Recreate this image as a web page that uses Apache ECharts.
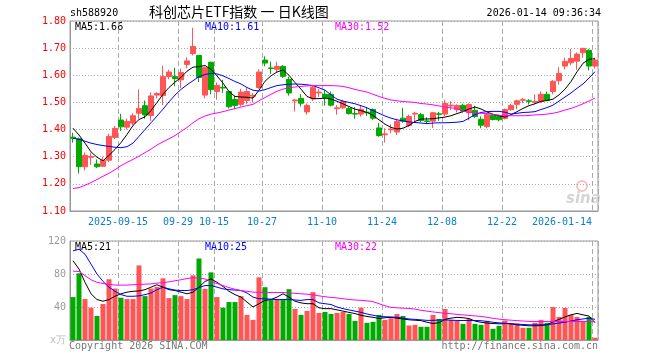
<!DOCTYPE html>
<html>
<head>
<meta charset="utf-8">
<script src="https://cdn.jsdelivr.net/npm/echarts@6/dist/echarts.min.js"></script>
<style>
html,body{margin:0;padding:0;background:#fff;}
#c{width:660px;height:360px;}
</style>
</head>
<body>
<div id="c"></div>
<script>
// ---- data ----
var dates = ['2025-09-03','2025-09-04','2025-09-05','2025-09-08','2025-09-09','2025-09-10','2025-09-11','2025-09-12',
'2025-09-15','2025-09-16','2025-09-17','2025-09-18','2025-09-19','2025-09-22','2025-09-23','2025-09-24','2025-09-25','2025-09-26','2025-09-29','2025-09-30',
'2025-10-09','2025-10-10','2025-10-13','2025-10-14','2025-10-15','2025-10-16','2025-10-17','2025-10-20','2025-10-21','2025-10-22','2025-10-23','2025-10-24','2025-10-27','2025-10-28','2025-10-29','2025-10-30','2025-10-31',
'2025-11-03','2025-11-04','2025-11-05','2025-11-06','2025-11-07','2025-11-10','2025-11-11','2025-11-12','2025-11-13','2025-11-14','2025-11-17','2025-11-18','2025-11-19','2025-11-20','2025-11-21','2025-11-24','2025-11-25','2025-11-26','2025-11-27','2025-11-28',
'2025-12-01','2025-12-02','2025-12-03','2025-12-04','2025-12-05','2025-12-08','2025-12-09','2025-12-10','2025-12-11','2025-12-12','2025-12-15','2025-12-16','2025-12-17','2025-12-18','2025-12-19','2025-12-22','2025-12-23','2025-12-24','2025-12-25','2025-12-26','2025-12-29','2025-12-30','2025-12-31',
'2026-01-05','2026-01-06','2026-01-07','2026-01-08','2026-01-09','2026-01-12','2026-01-13','2026-01-14'];

var opens = [1.372,1.366,1.263,1.298,1.273,1.265,1.287,1.371,1.435,1.409,
1.424,1.460,1.488,1.452,1.527,1.525,1.595,1.595,1.583,1.640,
1.680,1.673,1.527,1.648,1.540,1.556,1.540,1.511,1.493,1.507,
1.523,1.555,1.656,1.627,1.622,1.633,1.585,1.506,1.515,1.465,
1.513,1.535,1.530,1.530,1.477,1.480,1.478,1.459,1.457,1.464,
1.474,1.406,1.381,1.399,1.391,1.442,1.415,1.457,1.455,1.432,
1.431,1.458,1.457,1.487,1.473,1.489,1.462,1.471,1.438,1.411,
1.453,1.448,1.441,1.473,1.493,1.508,1.506,1.501,1.503,1.530,
1.540,1.580,1.634,1.646,1.652,1.683,1.692,1.634];

var closes = [1.368,1.263,1.305,1.301,1.263,1.287,1.375,1.404,1.410,1.430,
1.451,1.478,1.454,1.524,1.533,1.595,1.612,1.588,1.610,1.653,
1.706,1.592,1.628,1.547,1.563,1.553,1.484,1.489,1.538,1.540,
1.526,1.612,1.645,1.625,1.633,1.596,1.535,1.509,1.497,1.489,
1.556,1.538,1.518,1.490,1.480,1.503,1.459,1.457,1.475,1.462,
1.442,1.378,1.384,1.402,1.430,1.431,1.448,1.460,1.433,1.430,
1.462,1.456,1.496,1.490,1.489,1.468,1.492,1.448,1.416,1.455,
1.437,1.436,1.474,1.489,1.506,1.510,1.504,1.503,1.530,1.508,
1.578,1.607,1.651,1.662,1.678,1.699,1.634,1.656];

var lows = [1.352,1.238,1.250,1.270,1.258,1.262,1.280,1.365,1.395,1.400,
1.415,1.440,1.440,1.432,1.515,1.490,1.585,1.560,1.553,1.626,
1.673,1.575,1.515,1.530,1.510,1.535,1.478,1.475,1.485,1.495,
1.500,1.550,1.633,1.605,1.612,1.590,1.525,1.467,1.485,1.455,
1.505,1.520,1.488,1.485,1.455,1.475,1.455,1.440,1.448,1.450,
1.436,1.373,1.352,1.386,1.380,1.425,1.410,1.428,1.428,1.420,
1.406,1.432,1.450,1.472,1.463,1.463,1.434,1.443,1.405,1.405,
1.434,1.430,1.437,1.470,1.475,1.497,1.492,1.495,1.498,1.505,
1.530,1.565,1.622,1.637,1.620,1.665,1.618,1.625];

var highs = [1.388,1.370,1.316,1.315,1.290,1.300,1.385,1.413,1.458,1.440,
1.460,1.548,1.507,1.537,1.537,1.635,1.620,1.628,1.625,1.666,
1.775,1.673,1.632,1.650,1.574,1.583,1.542,1.525,1.550,1.555,
1.535,1.622,1.670,1.650,1.650,1.638,1.595,1.512,1.530,1.496,
1.562,1.550,1.545,1.540,1.490,1.510,1.483,1.483,1.490,1.483,
1.478,1.425,1.405,1.420,1.440,1.480,1.455,1.465,1.462,1.445,
1.465,1.465,1.510,1.505,1.493,1.495,1.497,1.488,1.448,1.459,
1.458,1.452,1.478,1.495,1.510,1.516,1.512,1.530,1.541,1.540,
1.582,1.630,1.665,1.697,1.684,1.702,1.696,1.665];

var ma5 = [1.405,1.380,1.350,1.318,1.298,1.285,1.305,1.327,1.352,1.382,
1.415,1.437,1.447,1.470,1.500,1.530,1.555,1.575,1.592,1.615,
1.630,1.632,1.636,1.622,1.598,1.571,1.540,1.522,1.520,1.519,
1.516,1.545,1.578,1.598,1.612,1.620,1.600,1.573,1.549,1.522,
1.514,1.514,1.516,1.513,1.504,1.495,1.485,1.475,1.470,1.463,
1.452,1.436,1.420,1.408,1.402,1.405,1.415,1.430,1.439,1.439,
1.440,1.443,1.446,1.451,1.459,1.466,1.476,1.483,1.476,1.465,
1.456,1.451,1.446,1.455,1.466,1.478,1.488,1.495,1.504,1.507,
1.512,1.528,1.549,1.577,1.613,1.644,1.659,1.661];

var ma10 = [1.368,1.364,1.357,1.350,1.345,1.341,1.338,1.335,1.333,1.337,
1.350,1.375,1.400,1.425,1.450,1.475,1.502,1.527,1.548,1.565,
1.580,1.595,1.603,1.607,1.605,1.598,1.588,1.577,1.568,1.555,
1.545,1.542,1.547,1.555,1.562,1.565,1.567,1.568,1.567,1.565,
1.562,1.554,1.545,1.528,1.512,1.505,1.500,1.495,1.488,1.480,
1.470,1.460,1.450,1.442,1.436,1.432,1.428,1.426,1.424,1.422,
1.424,1.425,1.425,1.426,1.427,1.430,1.442,1.455,1.463,1.466,
1.467,1.467,1.464,1.457,1.460,1.463,1.464,1.466,1.474,1.481,
1.490,1.505,1.520,1.535,1.552,1.568,1.590,1.613];

var ma30 = [1.183,1.186,1.195,1.205,1.216,1.228,1.239,1.252,1.267,1.279,
1.290,1.302,1.315,1.328,1.343,1.355,1.366,1.378,1.393,1.408,
1.425,1.440,1.450,1.457,1.461,1.466,1.472,1.477,1.483,1.488,
1.493,1.506,1.518,1.530,1.541,1.549,1.554,1.557,1.559,1.561,
1.562,1.562,1.562,1.562,1.561,1.559,1.554,1.548,1.543,1.538,
1.530,1.522,1.515,1.509,1.506,1.503,1.502,1.500,1.496,1.494,
1.491,1.487,1.483,1.480,1.477,1.468,1.464,1.462,1.460,1.459,
1.456,1.453,1.451,1.451,1.451,1.451,1.452,1.454,1.455,1.457,
1.460,1.465,1.472,1.478,1.486,1.495,1.505,1.516];

var volumes = [52,80.8,49.6,39.2,29.2,43.6,73.6,62.4,51.2,49.6,
49.6,90.4,53.2,62.4,64.4,74.8,50.8,54.4,53.2,49.6,
78.4,98.8,62,82,52,39.2,46,46,53.2,30.4,
24.4,76,64,48.4,49.6,48.4,61.6,37.6,30.4,35.2,
58,32.8,34,31.6,32.8,34,31.6,23.2,39.2,20.8,
22,30.4,24.4,26.4,31.6,29.2,17.6,18.4,16,16,
30.4,25.6,37.6,24.4,23.2,19.6,25.6,19.6,18.4,23.2,
13.6,17.2,23.6,19.6,19.6,14.8,14.8,20.8,24.4,20.8,
40,28,38.8,30.4,28,23.2,28,2.8];

var vma5 = [96,86,70,56,49,47,49,53,56,58,
59,59.5,61,64,67,64,61,60,58,56,
58,64,71,74,70,65,59,55,52,46,
40,44,48,49,52,56,52,47,45,44,
44,39,38,38,36.5,35,33.5,32,30,28.5,
27.5,26,27,27.5,26.5,25.5,24.5,24,23.5,21.5,
20,21,25,26.5,27.5,27,26,23,21.5,20.5,
20,19.6,20,19.5,18.4,17.8,17.2,17.2,17.5,18.5,
22,25,28,30.5,32.2,30.5,29,21];

var vma10 = [108,110,104,92,80,71,64,59,55,53,
53,53.5,55,57,61,64,62,60.5,60,60,
61,63.5,66,66,64,62,61,60.5,60,57,
52,50,50,49.5,49,49,49,48.5,48,49,
49,45,44,43,40,38,36.5,35,33.5,31.5,
30,28.6,28.2,27.9,27.6,26.5,25.5,25,24.4,23.8,
23.8,24.2,24.4,24,23.7,23.6,23.6,23.6,23.4,22.5,
21.5,20.8,20.2,19.8,19.3,18.8,18.4,18.4,18.4,18.4,
19.5,20.5,21.5,23,24.5,25.5,26.5,25];

var vma30 = [83.5,83,78,73,70,68.5,67.5,66.6,66.5,66.6,
67,67.3,67.7,68,69,69.6,70.5,71.8,73,74.5,
75.6,75,74,71,68.5,66,63.5,61.5,60,59,
58,57.8,57.6,57.6,57.6,57.6,57,56.6,56,55.5,
54.8,53.5,52.5,51.6,51,50,49.2,48.5,48,47.5,
46.5,44,41.5,39.5,39,38.6,38.2,37.5,36,35,
34,33.2,32.5,31.8,31,30.4,29.8,29.2,28.6,27.5,
26.3,25.3,24.6,24,23.5,23,22.6,22.4,22.4,22.4,
22.4,22.4,22.4,22.4,22.4,22.4,22.4,22];

// tick labels shown on the date axis (index -> text)
var tickIndex = [8,18,24,32,42,52,62,72,87];
var tickText  = ['2025-09-15','09-29','10-15','10-27','11-10','11-24','12-08','12-22','2026-01-14'];
var priceTicks = [1.10,1.80,0.10];   // min, max, interval
var volTicks = [0,120,40];

// ---- chart ----
var UP = '#FF5555', DOWN = '#00AA00';
var MONO = '"DejaVu Sans Mono", "Liberation Mono", monospace';
var kdata = opens.map(function(o,i){ return [o, closes[i], lows[i], highs[i]]; });
var tickMap = {};
tickIndex.forEach(function(k,i){ tickMap[k] = tickText[i]; });
function isTick(i){ return tickMap.hasOwnProperty(i); }
function last(a){ return a[a.length-1]; }

var chart = echarts.init(document.getElementById('c'), null, {renderer:'canvas'});
var gridCommon = {left:70, right:62, show:true, borderColor:'#999', borderWidth:1, backgroundColor:'transparent', containLabel:false, outerBoundsMode:'none'};
var dashLine = {show:true, interval:function(i){return isTick(i);}, lineStyle:{color:'#aaa', type:[5,3], width:1}};

function txt(t, x, y, color, align, font){
  return {type:'text', x:x, y:y, silent:true,
    style:{text:t, fill:color, font:font || ('10px ' + MONO), textAlign:align||'left', textVerticalAlign:'middle'}};
}

var option = {
  animation:false,
  backgroundColor:'#fff',
  grid:[
    Object.assign({top:21, height:190}, gridCommon),
    Object.assign({top:241, height:99}, gridCommon)
  ],
  xAxis:[
    {type:'category', gridIndex:0, data:dates, boundaryGap:true,
     axisLine:{show:true, lineStyle:{color:'#999'}}, axisTick:{show:false},
     axisLabel:{show:true, interval:function(i){return isTick(i);}, margin:6,
       color:'#0A7FCC', fontSize:10, fontFamily:MONO,
       formatter:function(v,i){ return (i===87? '{e|':'{a|') + tickMap[i] + '}'; },
       rich:{a:{padding:[0,6,0,0], color:'#0A7FCC', fontSize:10, fontFamily:MONO},
             e:{padding:[0,66,0,0], color:'#0A7FCC', fontSize:10, fontFamily:MONO}}},
     splitLine:dashLine},
    {type:'category', gridIndex:1, data:dates, boundaryGap:true,
     axisLine:{show:true, lineStyle:{color:'#999'}}, axisTick:{show:false},
     axisLabel:{show:false}, splitLine:dashLine}
  ],
  yAxis:[
    {type:'value', gridIndex:0, min:priceTicks[0], max:priceTicks[1], interval:priceTicks[2], scale:true,
     axisLine:{show:true, lineStyle:{color:'#999'}}, axisTick:{show:false},
     axisLabel:{color:'#FF0000', fontSize:10, fontFamily:MONO, margin:4,
       formatter:function(v){ return v.toFixed(2); }},
     splitLine:{show:true, lineStyle:{color:'#aaa', type:[1,2]}}},
    {type:'value', gridIndex:1, min:volTicks[0], max:volTicks[1], interval:volTicks[2],
     axisLine:{show:true, lineStyle:{color:'#999'}}, axisTick:{show:false},
     axisLabel:{color:'#999', fontSize:10, fontFamily:MONO, margin:4,
       formatter:function(v){ return v===0 ? '{u|x万}' : String(v); },
       rich:{u:{color:'#bbb', fontSize:10, fontFamily:MONO}}},
     splitLine:{show:true, lineStyle:{color:'#aaa', type:[1,2]}}}
  ],
  series:[
    {type:'candlestick', xAxisIndex:0, yAxisIndex:0, data:kdata, barWidth:5,
     itemStyle:{color:UP, color0:DOWN, borderColor:UP, borderColor0:DOWN, borderWidth:1}},
    {type:'line', xAxisIndex:0, yAxisIndex:0, data:ma5, symbol:'none', lineStyle:{color:'#000', width:1}},
    {type:'line', xAxisIndex:0, yAxisIndex:0, data:ma10, symbol:'none', lineStyle:{color:'#0000FF', width:1}},
    {type:'line', xAxisIndex:0, yAxisIndex:0, data:ma30, symbol:'none', lineStyle:{color:'#FF00FF', width:1}},
    {type:'bar', xAxisIndex:1, yAxisIndex:1, data:volumes, barWidth:5,
     itemStyle:{color:function(p){ return closes[p.dataIndex] >= opens[p.dataIndex] ? UP : DOWN; }}},
    {type:'line', xAxisIndex:1, yAxisIndex:1, data:vma5, symbol:'none', lineStyle:{color:'#000', width:1}},
    {type:'line', xAxisIndex:1, yAxisIndex:1, data:vma10, symbol:'none', lineStyle:{color:'#0000FF', width:1}},
    {type:'line', xAxisIndex:1, yAxisIndex:1, data:vma30, symbol:'none', lineStyle:{color:'#FF00FF', width:1}}
  ],
  graphic:[
    txt('sh588920', 70, 13, '#000'),
    txt('科创芯片ETF指数 一 日K线图', 149, 12, '#000', 'left', '14px "Noto Sans CJK SC", sans-serif'),
    txt('2026-01-14 09:36:34', 601, 13, '#000', 'right'),
    txt('MA5:' + last(ma5).toFixed(2), 75, 27, '#000'),
    txt('MA10:' + last(ma10).toFixed(2), 205, 27, '#0000FF'),
    txt('MA30:' + last(ma30).toFixed(2), 335, 27, '#FF00FF'),
    txt('MA5:' + Math.round(last(vma5)), 75, 247, '#000'),
    txt('MA10:' + Math.round(last(vma10)), 205, 247, '#0000FF'),
    txt('MA30:' + Math.round(last(vma30)), 335, 247, '#FF00FF'),
    txt('Copyright 2026 SINA.COM', 69, 346, '#777'),
    txt('http://finance.sina.com.cn', 598, 346, '#777', 'right'),
    {type:'circle', silent:true, shape:{cx:582, cy:186, r:5}, style:{fill:'none', stroke:'#f3c4c4', lineWidth:2}},
    txt('sina', 566, 199, '#d4d4d4', 'left', 'italic bold 15px "DejaVu Sans", sans-serif')
  ]
};
chart.setOption(option);
</script>
</body>
</html>
